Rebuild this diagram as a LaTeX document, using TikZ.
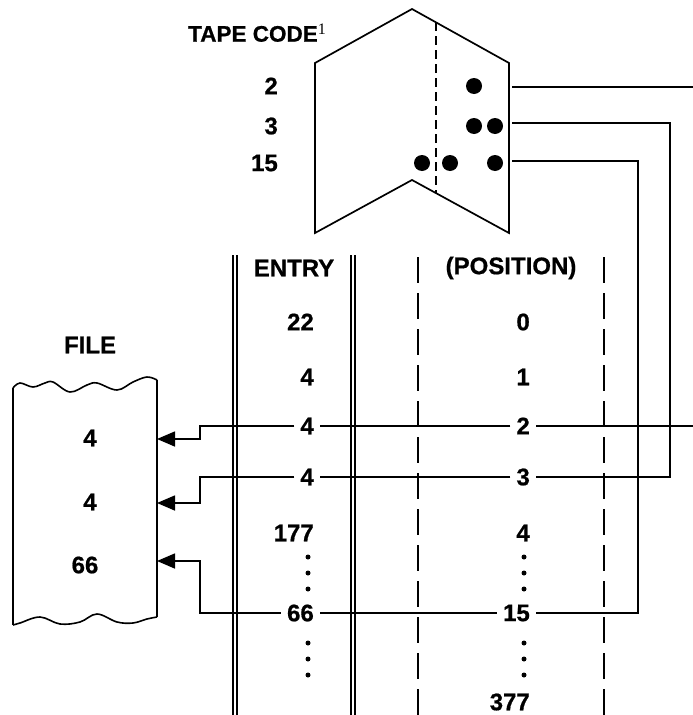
\documentclass[tikz,border=0pt]{standalone}
\usepackage{fontspec}
\setmainfont{Liberation Sans}[BoldFeatures={FakeBold=0.7}]
\newfontfamily\supserif{Liberation Serif}
\usetikzlibrary{arrows.meta}
\begin{document}
\begin{tikzpicture}[x=1pt,y=-1pt,
  lbl/.style={font=\fontsize{24}{26}\selectfont\bfseries, inner sep=0pt},
  cell/.style={lbl, inner xsep=6pt, anchor=east},
  wire/.style={line width=1.6pt},
  col/.style={line width=1.3pt},
  dashcol/.style={line width=1.7pt, dash pattern=on 26pt off 10pt},
  hole/.style={circle, fill=black, minimum size=16pt, inner sep=0pt},
  vdot/.style={circle, fill=black, minimum size=5pt, inner sep=0pt},
  arr/.style={wire, -{Triangle[length=18pt,width=15pt]}},
  edge/.style={line width=1.6pt, line join=round},
]
\useasboundingbox (0,0) rectangle (693,715);

% ---------- tape ----------
\draw[line width=1.7pt, line join=miter] (315,63) -- (412,9) -- (509,63) -- (509,233) -- (412,180) -- (315,233) -- cycle;
\draw[line width=1.5pt, dash pattern=on 9pt off 5pt] (436,22) -- (436,193);
\node[hole] (h2a) at (474,86) {};
\node[hole] (h3a) at (474,126) {};
\node[hole] (h3b) at (495,126) {};
\node[hole] (h15a) at (422,163) {};
\node[hole] (h15b) at (450,163) {};
\node[hole] (h15c) at (495,163) {};

\node[lbl, font=\fontsize{22.5}{24}\selectfont\bfseries, anchor=west] (title) at (188,33) {TAPE CODE\raisebox{7pt}{\supserif\mdseries\fontsize{16}{16}\selectfont 1}};
\node[lbl, anchor=east] (tc2) at (278,86) {2};
\node[lbl, anchor=east] (tc3) at (278,126) {3};
\node[lbl, anchor=east] (tc15) at (278,163) {15};

% ---------- table columns ----------
\draw[col] (233,255) -- (233,715);
\draw[col] (237,255) -- (237,715);
\draw[col] (351,255) -- (351,715);
\draw[col] (355,255) -- (355,715);
\draw[dashcol] (418,257) -- (418,715);
\draw[dashcol] (604,257) -- (604,715);

\node[lbl] (hEntry) at (294,268) {ENTRY};
\node[lbl] (hPos) at (511,268) {(POSITION)};

\node[cell] (e0) at (320,322) {22};  \node[cell] (p0) at (536,322) {0};
\node[cell] (e1) at (320,377) {4};   \node[cell] (p1) at (536,377) {1};
\node[cell] (e2) at (320,426) {4};   \node[cell] (p2) at (536,426) {2};
\node[cell] (e3) at (320,477) {4};   \node[cell] (p3) at (536,477) {3};
\node[cell] (e4) at (320,533) {177}; \node[cell] (p4) at (536,533) {4};
\node[cell] (e15) at (320,613) {66}; \node[cell] (p15) at (536,613) {15};
\node[cell] (p377) at (536,702) {377};

\foreach \yy [count=\i] in {557,573,589} {
  \node[vdot] (ed\i) at (308,\yy) {};
  \node[vdot] (pd\i) at (524,\yy) {};
}
\foreach \yy [count=\i] in {643,659,675} {
  \node[vdot] (edd\i) at (308,\yy) {};
  \node[vdot] (pdd\i) at (524,\yy) {};
}

% ---------- file ----------
\node[lbl] (fileT) at (90,345) {FILE};
\draw[edge] (13,388) -- (13,625);
\draw[edge] (157,380) -- (157,617);
\draw[edge] plot[smooth, tension=0.6] coordinates {(13,388) (20,383) (33,387) (45,383) (53,382) (70,392) (87,385) (97,383) (117,390) (133,382) (147,377) (157,380)};
\draw[edge] plot[smooth, tension=0.6] coordinates {(13,625) (20,623) (40,617) (60,624) (80,622) (97,614) (117,622) (133,623) (147,619) (157,617)};
\node[lbl] (f2) at (90,438) {4};
\node[lbl] (f3) at (90,502) {4};
\node[lbl] (f15) at (85,565) {66};

% ---------- connectors ----------
\coordinate (t2) at (512,87);   \coordinate (R1) at (693,87);
\coordinate (t3) at (512,123);  \coordinate (v3) at (670,477);
\coordinate (t15) at (512,161); \coordinate (v15) at (638,613);
\coordinate (R2) at (693,426);
\coordinate (j2) at (200,439);  \coordinate (a2) at (157,439);
\coordinate (j3) at (200,503);  \coordinate (a3) at (157,503);
\coordinate (j15) at (200,561); \coordinate (a15) at (157,561);

\draw[wire] (t2) -- (R1);
\draw[wire] (t3) -| (v3) -- (p3.east);
\draw[wire] (t15) -| (v15) -- (p15.east);

\draw[wire] (p2.east) -- (R2);
\draw[wire] (p2.west) -- (e2.east);
\draw[wire] (p3.west) -- (e3.east);
\draw[wire] (p15.west) -- (e15.east);

\draw[arr] (e2.west) -| (j2) -- (a2);
\draw[arr] (e3.west) -| (j3) -- (a3);
\draw[arr] (e15.west) -| (j15) -- (a15);
\end{tikzpicture}
\end{document}
